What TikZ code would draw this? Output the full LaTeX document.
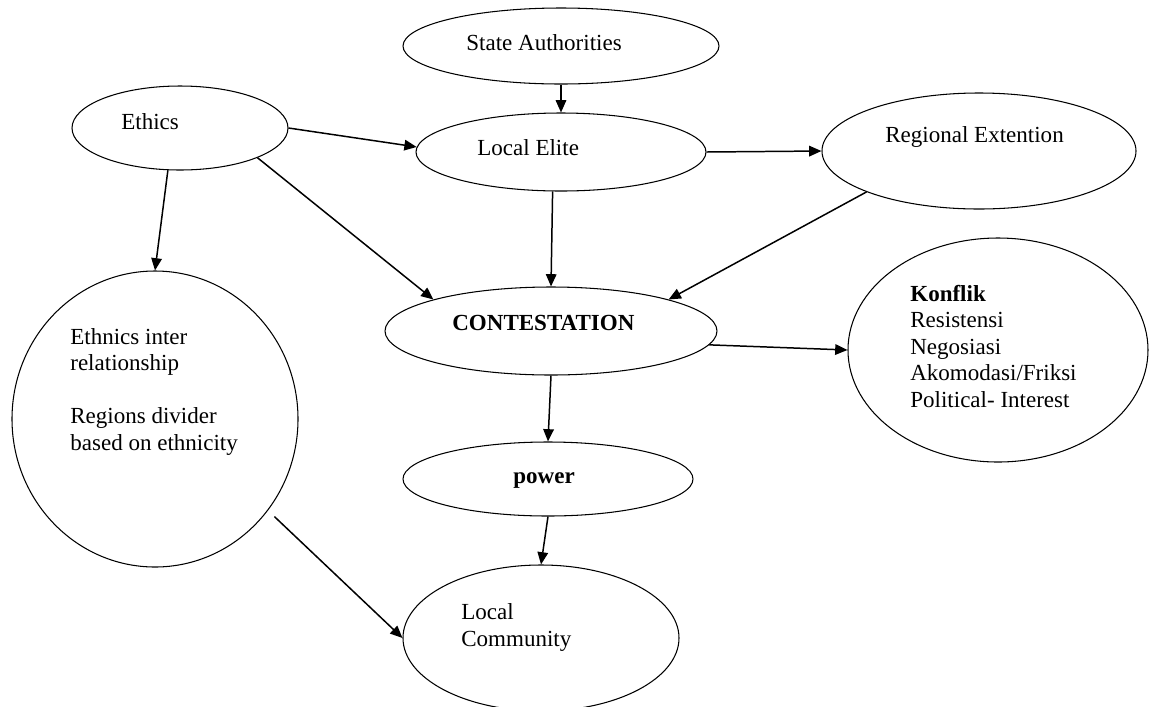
\documentclass[tikz,border=0pt]{standalone}
\usepackage{fontspec}
\setmainfont{Liberation Serif}
\usetikzlibrary{shapes.geometric,arrows.meta}

\begin{document}
\begin{tikzpicture}[x=0.2mm,y=-0.2mm,
		oval/.style={draw,ellipse,inner sep=0pt,line width=0.6pt},
		lbl/.style={inner sep=0pt,anchor=base west,align=left,font=\fontsize{13.1pt}{15pt}\selectfont},
		link/.style={-{Triangle[length=7pt,width=6pt]},line width=0.85pt}]
	\useasboundingbox (0,0) rectangle (1154,706);
	% the ovals
	\node[oval,minimum width=6.32cm,minimum height=1.52cm] (state) at (561,46) {};
	\node[oval,minimum width=4.32cm,minimum height=1.68cm] (ethics) at (180,128) {};
	\node[oval,minimum width=5.8cm,minimum height=1.56cm] (elite) at (561,152) {};
	\node[oval,minimum width=6.28cm,minimum height=2.32cm] (regional) at (979,151) {};
	\node[oval,minimum width=5.72cm,minimum height=5.92cm] (ethnic) at (155,419) {};
	\node[oval,minimum width=6.64cm,minimum height=1.76cm] (contest) at (551,331) {};
	\node[oval,minimum width=6cm,minimum height=4.48cm] (konflik) at (998,350) {};
	\node[oval,minimum width=5.8cm,minimum height=1.48cm] (power) at (548,479) {};
	\node[oval,minimum width=5.52cm,minimum height=2.92cm] (community) at (541,638) {};
	% the texts
	\node[lbl] (statetxt) at (466,50) {State Authorities};
	\node[lbl] (ethicstxt) at (121,129) {Ethics};
	\node[lbl] (elitetxt) at (477,155) {Local Elite};
	\node[lbl] (regionaltxt) at (885,142) {Regional Extention};
	\node[lbl] (ethnictxt) at (70,450) {Ethnics inter\\relationship\\[15pt]Regions divider\\based on ethnicity};
	\node[lbl] (contesttxt) at (452,330) {\textbf{CONTESTATION}};
	\node[lbl] (konfliktxt) at (910,407) {\textbf{Konflik}\\Resistensi\\Negosiasi\\Akomodasi/Friksi\\Political- Interest};
	\node[lbl] (powertxt) at (513,483) {\textbf{power}};
	\node[lbl] (communitytxt) at (461,646) {Local\\Community};
	% the arrows
	\foreach \a/\b in {state.south/elite.north,ethics.east/elite.178,ethics.254/ethnic.north,
		ethics.-21/contest.165,elite.258/contest.north,elite.east/regional.west,
		regional.200/contest.15,contest.-5/konflik.west,contest.south/power.north,
		power.south/community.north}
		\draw[link] (\a) -- (\b);
	\draw[link,shorten <=5pt] (ethnic.-39) -- (community.west);
\end{tikzpicture}
\end{document}
